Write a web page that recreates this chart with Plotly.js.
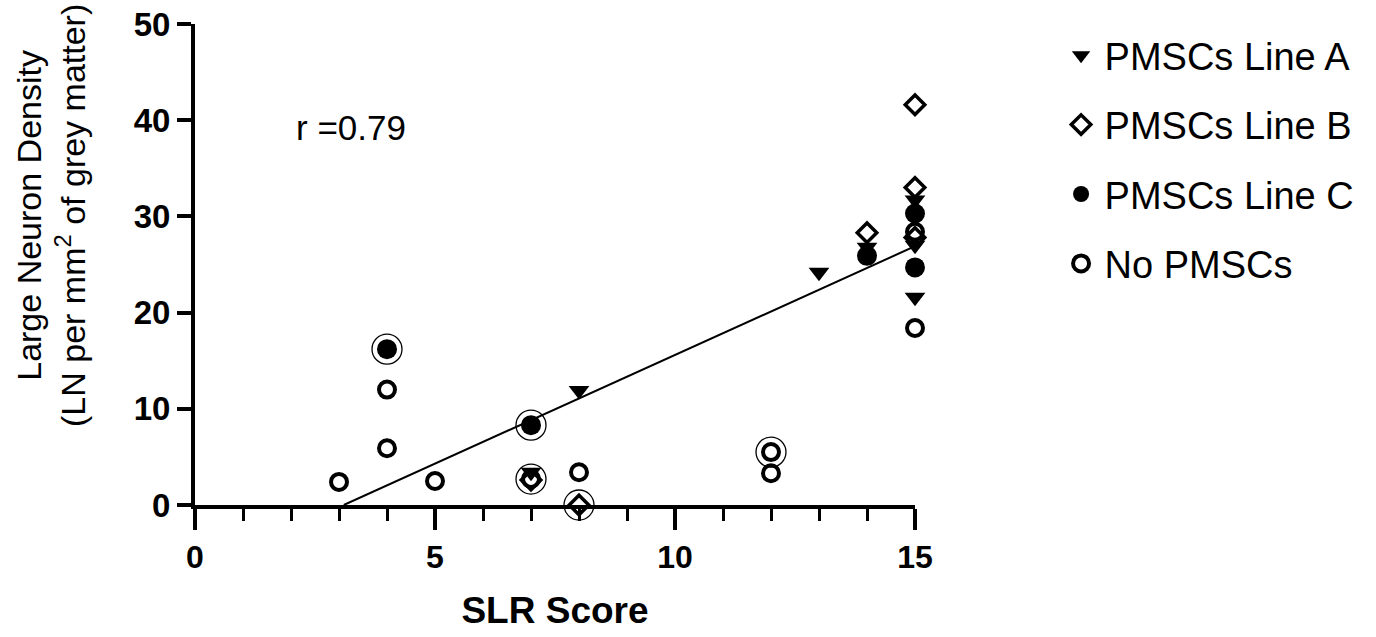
<!DOCTYPE html>
<html>
<head>
<meta charset="utf-8">
<script src="https://cdn.plot.ly/plotly-3.0.1.min.js"></script>
<style>html,body{margin:0;padding:0;background:#fff;}#chart{width:1376px;height:637px;}</style>
</head>
<body>
<div id="chart"></div>
<script>
// Data
const lineA_x = [7, 8, 13, 14, 15, 15, 15];
const lineA_y = [3.4, 11.9, 24.2, 26.8, 31.7, 27.0, 21.6];

const lineB_x = [7, 8, 14, 15, 15, 15];
const lineB_y = [2.6, 0, 28.3, 41.6, 33.0, 27.8];

const lineC_x = [4, 7, 14, 15, 15];
const lineC_y = [16.2, 8.3, 25.9, 30.3, 24.7];

const noP_x = [3, 4, 4, 5, 7, 8, 12, 12, 15, 15];
const noP_y = [2.4, 12.0, 5.9, 2.5, 2.7, 3.4, 5.5, 3.3, 28.4, 18.4];

const ring_x = [4, 7, 7, 8, 12];
const ring_y = [16.2, 8.3, 2.7, 0, 5.5];

const fit_x = [3.1, 15];
const fit_y = [0, 26.9];

const seriesNames = ["PMSCs Line A", "PMSCs Line B", "PMSCs Line C", "No PMSCs"];
const xTicks = [0, 5, 10, 15];
const yTicks = [0, 10, 20, 30, 40, 50];
const rText = "r =0.79";
const yTitle = "Large Neuron Density<br>(LN per mm<sup>2</sup> of grey matter)";
const xTitle = "SLR Score";

const F = "Liberation Sans, Arial, sans-serif";
const traces = [
  {x: fit_x, y: fit_y, type: "scatter", mode: "lines", line: {color: "#000", width: 2}, showlegend: false, hoverinfo: "skip"},
  {x: ring_x, y: ring_y, type: "scatter", mode: "markers", showlegend: false, cliponaxis: false,
   marker: {symbol: "circle-open", size: 30, color: "#000", line: {width: 1.3, color: "#000"}}},
  {x: noP_x, y: noP_y, name: seriesNames[3], legendgroup: "d", legendrank: 4, type: "scatter", mode: "markers", cliponaxis: false,
   marker: {symbol: "circle-open", size: 16, color: "#000", line: {width: 4, color: "#000"}}},
  {x: lineC_x, y: lineC_y, name: seriesNames[2], legendgroup: "c", legendrank: 3, type: "scatter", mode: "markers", cliponaxis: false,
   marker: {symbol: "circle", size: 20, color: "#000"}},
  {x: lineB_x, y: lineB_y, name: seriesNames[1], legendgroup: "b", legendrank: 2, type: "scatter", mode: "markers", cliponaxis: false,
   marker: {symbol: "diamond-open", size: 15, color: "#000", line: {width: 3.5, color: "#000"}}},
  {x: lineA_x, y: lineA_y, name: seriesNames[0], legendgroup: "a", legendrank: 1, type: "scatter", mode: "markers", cliponaxis: false,
   marker: {symbol: "triangle-down", size: 18, color: "#000"}}
];

const layout = {
  width: 1376, height: 637,
  margin: {l: 195, r: 461, t: 24, b: 132},
  paper_bgcolor: "#fff", plot_bgcolor: "#fff",
  font: {family: F, color: "#000"},
  showlegend: true,
  legend: {x: 1.198, y: 1.0, xanchor: "left", yanchor: "top", traceorder: "grouped", tracegroupgap: 17,
           font: {family: F, size: 38, color: "#000"}, itemwidth: 37, bgcolor: "rgba(0,0,0,0)"},
  xaxis: {range: [0, 15], tickvals: xTicks, ticktext: xTicks.map(String), showgrid: false, zeroline: false,
          showline: true, linecolor: "#000", linewidth: 4, ticks: "outside", ticklen: 21, tickwidth: 4, tickcolor: "#000",
          minor: {dtick: 1, ticks: "outside", ticklen: 12, tickwidth: 3, tickcolor: "#000", showgrid: false},
          tickfont: {family: F, size: 32, color: "#000", weight: "bold"},
          title: {text: "<b>" + xTitle + "</b>", font: {family: F, size: 37, color: "#000"}, standoff: 24}},
  yaxis: {range: [0, 50], tickvals: yTicks, ticktext: yTicks.map(String), showgrid: false, zeroline: false,
          showline: true, linecolor: "#000", linewidth: 4, ticks: "outside", ticklen: 14, tickwidth: 4, tickcolor: "#000",
          tickfont: {family: F, size: 33, color: "#000", weight: "bold"}},
  annotations: [
    {x: 3.25, y: 39.2, xref: "x", yref: "y", text: rText, showarrow: false,
     font: {family: F, size: 35, color: "#000"}},
    {x: (51 - 195) / 720, y: (505 - 216) / 481, xref: "paper", yref: "paper", text: yTitle, showarrow: false,
     textangle: -90, xanchor: "center", yanchor: "middle", font: {family: F, size: 34, color: "#000"}}
  ]
};

Plotly.newPlot("chart", traces, layout, {displayModeBar: false, staticPlot: true});
</script>
</body>
</html>
